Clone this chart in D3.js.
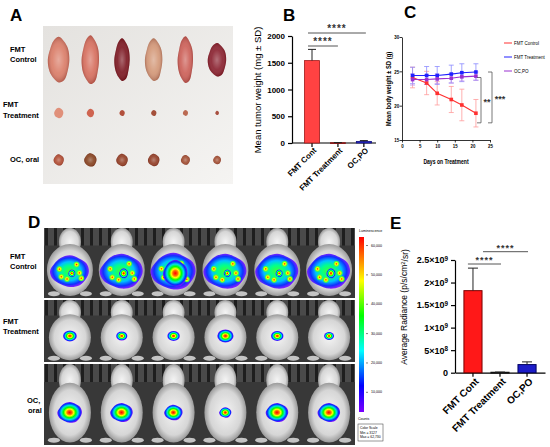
<!DOCTYPE html>
<html>
<head>
<meta charset="utf-8">
<script src="https://cdn.jsdelivr.net/npm/d3@7"></script>
<style>
body { margin: 0; background: #fff; }
svg { display: block; font-family: "Liberation Sans", Arial, sans-serif; }
</style>
</head>
<body>
<div id="fig"></div>
<script>
// groups
var groups = ["FMT Cont", "FMT Treatment", "OC,PO"];
var rowNamesA = [["FMT", "Control"], ["FMT", "Treatment"], ["OC, oral"]];
var rowNamesD = [["FMT", "Control"], ["FMT", "Treatment"], ["OC,", "oral"]];

// B: tumor weight
var tumorWeight = [1540, 5, 30];
var tumorSD = [210, 3, 15];
var weightTicks = [0, 500, 1000, 1500, 2000];

// C: body weight
var days = [3, 7, 10, 14, 17, 21];
var bwControl = [24.1, 23.3, 21.8, 20.9, 20.1, 18.9];
var bwControlSD = [1.5, 1.7, 1.7, 1.9, 2.3, 2.0];
var bwTreat = [24.4, 24.4, 24.4, 24.6, 24.8, 24.9];
var bwTreatSD = [1.2, 1.3, 1.3, 1.3, 1.3, 1.2];
var bwOral = [23.8, 23.8, 23.9, 24.0, 24.2, 24.3];
var bwOralSD = [0.8, 0.7, 0.7, 0.7, 0.6, 0.6];
var seriesC = ["FMT Control", "FMT Treatment", "OC,PO"];

// E: radiance
var radiance = [1.82e9, 1.0e7, 1.8e8];
var radianceSD = [0.5e9, 0.4e7, 0.6e8];
var radTicks = [0, 5e8, 1e9, 1.5e9, 2e9, 2.5e9];
var radTickBase = ["0", "5\u00d710", "1\u00d710", "1.5\u00d710", "2\u00d710", "2.5\u00d710"];
var radTickExp = ["", "8", "9", "9", "9", "9"];

// A: tumour sizes in the photo (px)
var tumorCtrlW = [21, 17, 15, 17, 15, 18];
var tumorCtrlH = [45, 48, 42, 42, 46, 33];
var tumorCtrlCol = ["#da7d68", "#d66f5e", "#7c1822", "#d39878", "#cc6058", "#8a2230"];
var tumorTrtR = [4.5, 3.6, 2.6, 2.6, 2.5, 1.8];
var tumorTrtCol = ["#e0907a", "#cf6450", "#b2503c", "#a4503a", "#bb6a52", "#a85040"];
var tumorOralR = [5.0, 6.0, 5.6, 5.6, 4.4, 3.8];
var tumorOralCol = ["#b04c32", "#86421f", "#923e24", "#923e26", "#a04c30", "#a24e32"];

// D: luminescence signal size (px)
var ctrlSignal = [19, 21, 22, 21, 21, 21];
var ctrlHot = [3.5, 4.5, 12, 3.5, 3.5, 4.5];
var trtSignal = [5.5, 4.5, 5, 6.5, 5, 4];
var oralSignal = [12, 11, 9, 6, 11, 11];
var lumTicks = [10000, 20000, 30000, 40000, 50000, 60000];

var W = 550, H = 447;
var svg = d3.select("#fig").append("svg").attr("width", W).attr("height", H);
svg.append("rect").attr("width", W).attr("height", H).attr("fill", "#fff");
var defs = svg.append("defs");

function radial(id, stops) {
    var g = defs.append("radialGradient").attr("id", id);
    g.selectAll("stop").data(stops).enter().append("stop")
        .attr("offset", function (d) { return d[0]; })
        .attr("stop-color", function (d) { return d[1]; })
        .attr("stop-opacity", function (d) { return d.length > 2 ? d[2] : 1; });
}
radial("lumHot", [[0, "#ff0000"], [0.2, "#ff7000"], [0.33, "#ffff00"], [0.5, "#00ff00"], [0.68, "#00e0e0"], [0.86, "#0030ff"], [1, "#7a10ff"]]);
radial("lumSpot", [[0, "#ff2000"], [0.35, "#ffff00"], [0.7, "#40ff40"], [1, "#40ff40", 0]]);
radial("lumBroad", [[0, "#40ff30"], [0.35, "#00ff90"], [0.6, "#00c0ff"], [0.84, "#1030ff"], [1, "#8020ff"]]);
radial("mouse", [[0, "#f4f4f4"], [0.75, "#d6d6d6"], [1, "#9a9a9a"]]);
radial("shine", [[0, "#fff", 0.35], [0.6, "#fff", 0.08], [1, "#400", 0.25]]);

var photoBg = defs.append("linearGradient").attr("id", "photoBg")
    .attr("x1", 0).attr("y1", 0).attr("x2", 1).attr("y2", 1);
photoBg.append("stop").attr("offset", 0).attr("stop-color", "#e4e2df");
photoBg.append("stop").attr("offset", 1).attr("stop-color", "#f5f4f2");

var lumBar = defs.append("linearGradient").attr("id", "lumBar")
    .attr("x1", 0).attr("y1", 1).attr("x2", 0).attr("y2", 0);
[["0", "#7a00ff"], ["0.15", "#0000ff"], ["0.35", "#00ffff"], ["0.55", "#00ff00"], ["0.75", "#ffff00"], ["1", "#ff0000"]]
    .forEach(function (s) { lumBar.append("stop").attr("offset", s[0]).attr("stop-color", s[1]); });

var cage = defs.append("pattern").attr("id", "cage").attr("patternUnits", "userSpaceOnUse")
    .attr("width", 9).attr("height", 20);
cage.append("rect").attr("width", 9).attr("height", 20).attr("fill", "#4a4a4a");
cage.append("rect").attr("width", 3).attr("height", 20).attr("fill", "#1e1e1e");

function panelLabel(t, x, y) {
    svg.append("text").attr("x", x).attr("y", y).attr("font-size", 17).attr("font-weight", "bold").text(t);
}

function styleAxis(g, fs, fw) {
    g.attr("font-size", fs).attr("font-family", "Liberation Sans, Arial, sans-serif");
    g.select(".domain").attr("stroke", "#000").attr("stroke-width", 1.2);
    g.selectAll(".tick line").attr("stroke", "#000").attr("stroke-width", 1.2);
    g.selectAll(".tick text").attr("font-weight", fw).attr("fill", "#000");
}

// condensed text, since no narrow font is installed
function narrowText(g, x, y, rot, fs, txt, anchor, bold) {
    return g.append("text")
        .attr("transform", "translate(" + x + "," + y + ") rotate(" + rot + ") scale(0.78,1)")
        .attr("text-anchor", anchor).attr("font-size", fs)
        .attr("font-weight", bold ? "bold" : "normal").text(txt);
}

var lump = [1, 0.97, 1.03, 1.0, 0.95, 1.02, 1.05, 0.96, 0.99, 1.03, 0.96, 1.01];
function blobPath(cx, cy, rx, ry) {
    var pts = lump.map(function (k, j) {
        var a = j / lump.length * 2 * Math.PI;
        return [cx + Math.cos(a) * rx * k, cy + Math.sin(a) * ry * k];
    });
    return d3.line().curve(d3.curveCatmullRomClosed)(pts);
}

// ---------------- A ----------------
panelLabel("A", 10, 21);
svg.append("rect").attr("x", 43).attr("y", 26).attr("width", 190).attr("height", 158).attr("fill", "url(#photoBg)");
var xA = d3.scaleBand().domain(d3.range(6)).range([43, 233]);
var rowYA = [60, 113, 160];
var gA = svg.append("g");
tumorCtrlW.forEach(function (w, i) {
    var cx = xA(i) + xA.bandwidth() / 2;
    gA.append("path").attr("d", blobPath(cx, rowYA[0], w / 2, tumorCtrlH[i] / 2)).attr("fill", tumorCtrlCol[i]);
    gA.append("path").attr("d", blobPath(cx, rowYA[0], w / 2, tumorCtrlH[i] / 2)).attr("fill", "url(#shine)");
});
tumorTrtR.forEach(function (r, i) {
    var cx = xA(i) + xA.bandwidth() / 2;
    gA.append("path").attr("d", blobPath(cx, rowYA[1], r, r * 1.15)).attr("fill", tumorTrtCol[i]);
});
tumorOralR.forEach(function (r, i) {
    var cx = xA(i) + xA.bandwidth() / 2;
    gA.append("path").attr("d", blobPath(cx, rowYA[2], r, r * 1.1)).attr("fill", tumorOralCol[i]);
    gA.append("path").attr("d", blobPath(cx, rowYA[2], r, r * 1.1)).attr("fill", "url(#shine)");
});
var labA = [[[10, 52], [10, 62]], [[3, 107], [3, 118]], [[10, 162]]];
rowNamesA.forEach(function (lines, r) {
    lines.forEach(function (t, k) {
        svg.append("text").attr("x", labA[r][k][0]).attr("y", labA[r][k][1]).attr("font-size", 7.5)
            .attr("font-weight", "bold").text(t);
    });
});

// ---------------- B ----------------
panelLabel("B", 283, 21);
var yB = d3.scaleLinear().domain([0, 2000]).range([143, 36]);
var xB = d3.scaleBand().domain(groups).range([292, 376]).paddingInner(0.42).paddingOuter(0.33).align(0.73);
var gB = svg.append("g");
var axB = gB.append("g").attr("transform", "translate(292,0)")
    .call(d3.axisLeft(yB).tickValues(weightTicks).tickSize(4).tickSizeOuter(0).tickFormat(d3.format("d")));
styleAxis(axB, 8, "bold");
var axBx = gB.append("g").attr("transform", "translate(0,143)")
    .call(d3.axisBottom(xB).tickSize(4).tickSizeOuter(0));
styleAxis(axBx, 8, "bold");
axBx.select(".domain").attr("d", "M292,0H376");
axBx.selectAll(".tick text").attr("text-anchor", "end")
    .attr("transform", "translate(3,6) rotate(-45)").attr("y", 0).attr("dy", "0.35em");
var barFillB = ["#ff4242", "#d03030", "#2a2ad0"];
var barStrokeB = ["#a01818", "#801010", "#101080"];
gB.selectAll("rect.bar").data(groups).enter().append("rect")
    .attr("x", function (d) { return xB(d); })
    .attr("width", xB.bandwidth())
    .attr("y", function (d, i) { return yB(tumorWeight[i]); })
    .attr("height", function (d, i) { return Math.max(0.8, yB(0) - yB(tumorWeight[i])); })
    .attr("fill", function (d, i) { return barFillB[i]; })
    .attr("stroke", function (d, i) { return barStrokeB[i]; })
    .attr("stroke-width", 0.8);
groups.forEach(function (g, i) {
    var cx = xB(g) + xB.bandwidth() / 2;
    var y1 = yB(tumorWeight[i]), y2 = yB(tumorWeight[i] + tumorSD[i]);
    gB.append("path").attr("d", "M" + cx + "," + y1 + "V" + y2 + "M" + (cx - 4) + "," + y2 + "H" + (cx + 4))
        .attr("stroke", "#222").attr("stroke-width", 1).attr("fill", "none");
});
function sigBar(g, x1, x2, y, label, fs) {
    g.append("line").attr("x1", x1).attr("x2", x2).attr("y1", y).attr("y2", y)
        .attr("stroke", "#555").attr("stroke-width", 1);
    g.append("text").attr("x", (x1 + x2) / 2).attr("y", y - 1).attr("text-anchor", "middle")
        .attr("font-size", fs).attr("font-weight", "bold").attr("letter-spacing", 1).attr("fill", "#333").text(label);
}
var bC0 = xB(groups[0]) + xB.bandwidth() / 2 - 4;
sigBar(gB, bC0, xB(groups[2]) + xB.bandwidth() / 2 + 2, 33, "****", 10);
sigBar(gB, bC0, xB(groups[1]) + xB.bandwidth() / 2, 46, "****", 10);
gB.append("text").attr("transform", "translate(261,90) rotate(-90)").attr("text-anchor", "middle")
    .attr("font-size", 9.5).text("Mean tumor weight (mg \u00b1 SD)");

// ---------------- C ----------------
panelLabel("C", 404, 18);
var xC = d3.scaleLinear().domain([0, 25]).range([402, 490]);
var yC = d3.scaleLinear().domain([15, 30]).range([140, 37]);
var gC = svg.append("g");
var axCy = gC.append("g").attr("transform", "translate(402,0)")
    .call(d3.axisLeft(yC).tickValues([15, 20, 25, 30]).tickSize(2.5).tickSizeOuter(0));
styleAxis(axCy, 5.5, "bold");
axCy.selectAll(".tick text").attr("x", -3.5).attr("transform", "scale(0.8,1)");
var axCx = gC.append("g").attr("transform", "translate(0,140)")
    .call(d3.axisBottom(xC).tickValues([0, 5, 10, 15, 20, 25]).tickSize(2.5).tickSizeOuter(0));
styleAxis(axCx, 5.5, "bold");
axCx.selectAll(".tick text").attr("y", 4.5).attr("transform", "scale(0.8,1)");
gC.selectAll(".domain, .tick line").attr("stroke-width", 0.8);
narrowText(gC, 391, 89, -90, 7.5, "Mean body weight \u00b1 SD (g)", "middle", true);
narrowText(gC, 446, 164, 0, 6.5, "Days on Treatment", "middle", true);

var cSeries = [
    { name: seriesC[0], v: bwControl, sd: bwControlSD, col: "#ff3030", err: "#ff9c9c" },
    { name: seriesC[1], v: bwTreat, sd: bwTreatSD, col: "#2020ff", err: "#8a8aff" },
    { name: seriesC[2], v: bwOral, sd: bwOralSD, col: "#9a30d0", err: "#c090e8" }
];
var lineC = d3.line().x(function (d) { return xC(d[0]); }).y(function (d) { return yC(d[1]); });
cSeries.forEach(function (s) {
    days.forEach(function (d, i) {
        var x = xC(d);
        gC.append("path")
            .attr("d", "M" + x + "," + yC(s.v[i] - s.sd[i]) + "V" + yC(s.v[i] + s.sd[i]) +
                "M" + (x - 2.5) + "," + yC(s.v[i] - s.sd[i]) + "h5M" + (x - 2.5) + "," + yC(s.v[i] + s.sd[i]) + "h5")
            .attr("stroke", s.err).attr("stroke-width", 0.8).attr("fill", "none");
    });
});
cSeries.forEach(function (s) {
    gC.append("path").attr("d", lineC(days.map(function (d, i) { return [d, s.v[i]]; })))
        .attr("fill", "none").attr("stroke", s.col).attr("stroke-width", 1.1);
    gC.selectAll(null).data(days).enter().append("rect")
        .attr("x", function (d) { return xC(d) - 1.8; })
        .attr("y", function (d, i) { return yC(s.v[i]) - 1.8; })
        .attr("width", 3.6).attr("height", 3.6).attr("fill", s.col);
});
cSeries.forEach(function (s, k) {
    var ly = 43 + k * 14;
    gC.append("line").attr("x1", 504).attr("x2", 512).attr("y1", ly).attr("y2", ly)
        .attr("stroke", s.col).attr("stroke-width", 1);
    narrowText(gC, 514, ly + 2, 0, 5.8, s.name, "start", false);
});
function bracket(x, yTop, yBot, label, tx) {
    gC.append("path").attr("d", "M" + (x - 4) + "," + yTop + "H" + x + "V" + yBot + "H" + (x - 4))
        .attr("fill", "none").attr("stroke", "#555").attr("stroke-width", 0.8);
    gC.append("text").attr("x", tx).attr("y", (yTop + yBot) / 2 + 5).attr("text-anchor", "middle")
        .attr("font-size", 9).attr("font-weight", "bold").attr("fill", "#333").text(label);
}
bracket(481, yC(bwControl[0]), yC(17.5), "**", 487);
bracket(492, yC(bwTreat[5]), yC(17.5), "***", 500);

// ---------------- D ----------------
panelLabel("D", 28, 228);
var rowsD = [{ top: 228, h: 70 }, { top: 300, h: 62 }, { top: 364, h: 81 }];
var xD = d3.scaleBand().domain(d3.range(6)).range([44, 355]);
var gD = svg.append("g");
rowsD.forEach(function (row, r) {
    gD.append("rect").attr("x", 44).attr("y", row.top).attr("width", 311).attr("height", row.h).attr("fill", "#383838");
    gD.append("rect").attr("x", 44).attr("y", row.top).attr("width", 311).attr("height", Math.min(18, row.h * 0.25))
        .attr("fill", "url(#cage)");
    d3.range(6).forEach(function (i) {
        var cx = xD(i) + xD.bandwidth() / 2;
        var bodyRx = r === 0 ? 23 : 21;
        var bodyCy = row.top + row.h * 0.6;
        gD.append("ellipse").attr("cx", cx - 16).attr("cy", row.top + row.h * 0.94).attr("rx", 6).attr("ry", 2.5).attr("fill", "#c4c4c4");
        gD.append("ellipse").attr("cx", cx + 16).attr("cy", row.top + row.h * 0.94).attr("rx", 6).attr("ry", 2.5).attr("fill", "#c4c4c4");
        gD.append("ellipse").attr("cx", cx).attr("cy", row.top + row.h * 0.2).attr("rx", 11).attr("ry", row.h * 0.2).attr("fill", "url(#mouse)");
        gD.append("ellipse").attr("cx", cx).attr("cy", bodyCy).attr("rx", bodyRx).attr("ry", row.h * 0.37).attr("fill", "url(#mouse)");
    });
});
var spotOffsets = [[-0.55, -0.15], [0.5, 0.1], [-0.15, 0.5], [0.35, -0.45], [0.6, 0.45], [-0.45, 0.35]];
ctrlSignal.forEach(function (s, i) {
    var cx = xD(i) + xD.bandwidth() / 2, cy = rowsD[0].top + rowsD[0].h * 0.62;
    gD.append("path").attr("d", blobPath(cx, cy, s, s * 0.82)).attr("fill", "url(#lumBroad)");
    spotOffsets.forEach(function (o) {
        gD.append("circle").attr("cx", cx + o[0] * s).attr("cy", cy + o[1] * s * 0.8).attr("r", 3.5).attr("fill", "url(#lumSpot)");
    });
    gD.append("path").attr("d", blobPath(cx + 2, cy + 2, ctrlHot[i], ctrlHot[i] * 1.1)).attr("fill", "url(#lumHot)");
});
trtSignal.forEach(function (s, i) {
    var cx = xD(i) + xD.bandwidth() / 2, cy = rowsD[1].top + rowsD[1].h * 0.58;
    gD.append("ellipse").attr("cx", cx).attr("cy", cy).attr("rx", s * 1.25).attr("ry", s).attr("fill", "url(#lumHot)");
});
oralSignal.forEach(function (s, i) {
    var cx = xD(i) + xD.bandwidth() / 2, cy = rowsD[2].top + rowsD[2].h * 0.6;
    gD.append("path").attr("d", blobPath(cx, cy, s, s * 0.85)).attr("fill", "url(#lumHot)");
});
var labD = [[[10, 259], [10, 269]], [[3, 324], [3, 334]], [[27, 403], [28, 413]]];
rowNamesD.forEach(function (lines, r) {
    lines.forEach(function (t, k) {
        svg.append("text").attr("x", labD[r][k][0]).attr("y", labD[r][k][1]).attr("font-size", 7.5)
            .attr("font-weight", "bold").text(t);
    });
});
// colour scale
var yLum = d3.scaleLinear().domain([3127, 62730]).range([412, 237]);
gD.append("rect").attr("x", 359).attr("y", 237).attr("width", 5).attr("height", 175).attr("fill", "url(#lumBar)");
var axLum = gD.append("g").attr("transform", "translate(366,0)")
    .call(d3.axisRight(yLum).tickValues(lumTicks).tickSize(2).tickSizeOuter(0).tickFormat(d3.format(",")));
styleAxis(axLum, 3.6, "normal");
axLum.select(".domain").remove();
axLum.selectAll(".tick line").attr("stroke-width", 0.5);
gD.append("text").attr("x", 359).attr("y", 232).attr("font-size", 3.6).text("Luminescence");
gD.append("text").attr("x", 358).attr("y", 420).attr("font-size", 3.6).text("Counts");
gD.append("rect").attr("x", 358).attr("y", 424).attr("width", 25).attr("height", 17)
    .attr("fill", "none").attr("stroke", "#333").attr("stroke-width", 0.5);
["Color Scale", "Min = 3127", "Max = 62,730"].forEach(function (t, k) {
    gD.append("text").attr("x", 360).attr("y", 429 + k * 4.5).attr("font-size", 3.4).text(t);
});

// ---------------- E ----------------
panelLabel("E", 390, 229);
var yE = d3.scaleLinear().domain([0, 2.5e9]).range([372.7, 260]);
var xE = d3.scaleBand().domain(groups).range([455, 545]).paddingInner(0.33).paddingOuter(0.33);
var gE = svg.append("g");
var axE = gE.append("g").attr("transform", "translate(455,0)")
    .call(d3.axisLeft(yE).tickValues(radTicks).tickSize(4).tickSizeOuter(0));
styleAxis(axE, 9, "bold");
axE.selectAll(".tick text").each(function (d, i) {
    var t = d3.select(this).text(radTickBase[i]);
    if (radTickExp[i]) t.append("tspan").attr("dy", "-0.45em").attr("font-size", "0.7em").text(radTickExp[i]);
});
var axEx = gE.append("g").attr("transform", "translate(0,372.7)")
    .call(d3.axisBottom(xE).tickSize(4).tickSizeOuter(0));
styleAxis(axEx, 10, "bold");
axEx.selectAll(".tick text").attr("text-anchor", "end")
    .attr("transform", "translate(4,7) rotate(-45)").attr("y", 0).attr("dy", "0.35em");
var barFillE = ["#ff1818", "#333333", "#1c1cc8"];
var barStrokeE = ["#7a0000", "#111111", "#000060"];
gE.selectAll("rect.bar").data(groups).enter().append("rect")
    .attr("x", function (d) { return xE(d); })
    .attr("width", xE.bandwidth())
    .attr("y", function (d, i) { return yE(radiance[i]); })
    .attr("height", function (d, i) { return Math.max(0.8, yE(0) - yE(radiance[i])); })
    .attr("fill", function (d, i) { return barFillE[i]; })
    .attr("stroke", function (d, i) { return barStrokeE[i]; })
    .attr("stroke-width", 1);
groups.forEach(function (g, i) {
    var cx = xE(g) + xE.bandwidth() / 2;
    var y1 = yE(radiance[i]), y2 = yE(radiance[i] + radianceSD[i]);
    gE.append("path").attr("d", "M" + cx + "," + y1 + "V" + y2 + "M" + (cx - 5) + "," + y2 + "H" + (cx + 5))
        .attr("stroke", "#222").attr("stroke-width", 1).attr("fill", "none");
});
sigBar(gE, xE(groups[0]) + 4, xE(groups[1]) + xE.bandwidth() / 2 + 1, 264, "****", 9);
sigBar(gE, xE(groups[0]) + xE.bandwidth() + 1, xE(groups[2]) + xE.bandwidth() / 2 + 1, 251.7, "****", 9);
var yTitle = gE.append("text").attr("transform", "translate(407,307) rotate(-90)").attr("text-anchor", "middle")
    .attr("font-size", 8.5).text("Average Radiance (p/s/cm");
yTitle.append("tspan").attr("dy", "-0.4em").attr("font-size", "0.7em").text("2");
yTitle.append("tspan").attr("dy", "0.4em").text("/sr)");
</script>
</body>
</html>
